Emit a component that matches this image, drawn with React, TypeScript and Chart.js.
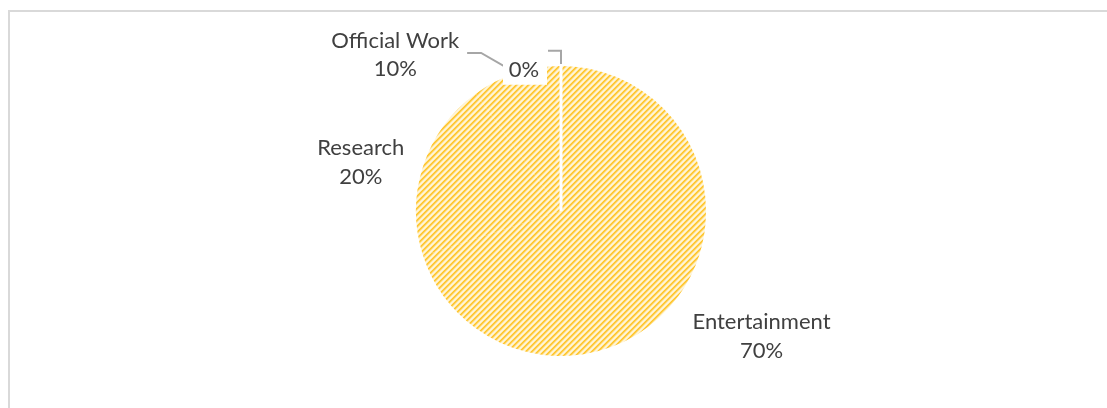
import React, { useEffect, useRef } from 'react';
import { Chart, registerables } from 'chart.js';

Chart.register(...registerables);

// ---- data ----
const categories: string[] = ['Entertainment', 'Research', 'Official Work', ''];
const values: number[] = [70, 20, 10, 0];
const showCategory: boolean[] = [true, true, true, false];
// manual label nudges (Excel "best fit" adjustments), px
const labelNudgeX: number[] = [18, -7, -104, -37];
const labelNudgeY: number[] = [-7, 14, 34, 26];

const FONT = '22px Lato, "Open Sans", sans-serif';
const TEXT_COLOR = '#404040';
const LINE_H = 28.5;

function makePattern(): CanvasPattern | string {
  const p = 6;
  const c = document.createElement('canvas');
  c.width = p;
  c.height = p;
  const g = c.getContext('2d');
  if (!g) return '#ffd966';
  const cols = ['#ffc42a', '#ffcd45', '#ffe08f', '#fff3d0', '#fff6da', '#ffe7a8'];
  for (let y = 0; y < p; y++) {
    for (let x = 0; x < p; x++) {
      g.fillStyle = cols[(x + y) % p];
      g.fillRect(x, y, 1, 1);
    }
  }
  const pat = g.createPattern(c, 'repeat');
  return pat || '#ffd966';
}

const labelPlugin = {
  id: 'excelLabels',
  afterDatasetsDraw(chart: any) {
    const ctx: CanvasRenderingContext2D = chart.ctx;
    const meta = chart.getDatasetMeta(0);
    const total = values.reduce((a, b) => a + b, 0);
    const arcs = meta.data.map((el: any) => el.getProps(['x', 'y', 'startAngle', 'endAngle', 'outerRadius'], true));
    ctx.save();
    ctx.font = FONT;

    type L = { lines: string[]; cx: number; cy: number; w: number; h: number; mid: number; arc: any; i: number };
    const labels: L[] = arcs.map((a: any, i: number) => {
      const pct = Math.round((values[i] / total) * 100) + '%';
      const lines = showCategory[i] ? [categories[i], pct] : [pct];
      const w = Math.max(...lines.map((t) => ctx.measureText(t).width));
      const h = lines.length * LINE_H;
      const mid = (a.startAngle + a.endAngle) / 2;
      const dx = Math.cos(mid);
      const dy = Math.sin(mid);
      const extra = 8 + Math.abs(dx) * (w / 2) + Math.abs(dy) * (h / 2);
      const d = a.outerRadius + extra;
      return {
        lines,
        cx: a.x + dx * d + labelNudgeX[i],
        cy: a.y + dy * d + labelNudgeY[i],
        w,
        h,
        mid,
        arc: a,
        i,
      };
    });

    // white separator line for zero-size slice
    arcs.forEach((a: any, i: number) => {
      if (values[i] === 0) {
        ctx.strokeStyle = '#ffffff';
        ctx.lineWidth = 3;
        ctx.beginPath();
        ctx.moveTo(a.x, a.y);
        ctx.lineTo(a.x + Math.cos(a.startAngle) * (a.outerRadius + 2), a.y + Math.sin(a.startAngle) * (a.outerRadius + 2));
        ctx.stroke();
      }
    });

    // leader lines
    ctx.strokeStyle = '#a6a6a6';
    ctx.lineWidth = 2;
    labels.forEach((l) => {
      const a = l.arc;
      const ex = a.x + Math.cos(l.mid) * a.outerRadius;
      const ey = a.y + Math.sin(l.mid) * a.outerRadius;
      if (values[l.i] === 0) {
        const bx = l.cx + 23;
        const by = l.cy - 21;
        ctx.beginPath();
        ctx.moveTo(bx + 1, by + 2);
        ctx.lineTo(ex, by + 2);
        ctx.lineTo(ex, ey - 2);
        ctx.stroke();
      } else if (l.i === 2) {
        const sx = l.cx + l.w / 2 + 8;
        const sy = l.cy - 2;
        ctx.beginPath();
        ctx.moveTo(sx, sy);
        ctx.lineTo(sx + 14, sy);
        ctx.lineTo(ex, ey);
        ctx.stroke();
      }
    });

    // labels
    labels.forEach((l) => {
      if (values[l.i] === 0) {
        ctx.fillStyle = '#ffffff';
        ctx.fillRect(l.cx - 21, l.cy - 21, 44, 36);
      }
      ctx.fillStyle = TEXT_COLOR;
      ctx.textAlign = 'center';
      ctx.textBaseline = 'middle';
      const top = l.cy - ((l.lines.length - 1) * LINE_H) / 2;
      l.lines.forEach((t, k) => ctx.fillText(t, l.cx, top + k * LINE_H));
    });
    ctx.restore();
  },
};

export default function App() {
  const ref = useRef<HTMLCanvasElement | null>(null);
  useEffect(() => {
    if (!ref.current) return;
    const pattern = makePattern();
    const chart = new Chart(ref.current, {
      type: 'pie',
      data: {
        labels: categories,
        datasets: [
          {
            data: values,
            backgroundColor: values.map(() => pattern) as any,
            borderWidth: 0,
            hoverOffset: 0,
            offset: 0,
          },
        ],
      },
      options: {
        responsive: false,
        animation: false,
        layout: { padding: { left: 301, right: 286, top: 66, bottom: 52 } },
        plugins: {
          legend: { display: false },
          tooltip: { enabled: false },
        },
        events: [],
      },
      plugins: [labelPlugin],
    });
    return () => chart.destroy();
  }, []);

  return (
    <div style={{ position: 'fixed', left: 0, top: 0, width: 1107, height: 408, background: '#ffffff', overflow: 'hidden' }}>
      <div
        style={{
          position: 'absolute',
          left: 8,
          top: 10,
          width: 1120,
          height: 420,
          borderTop: '2px solid #d9d9d9',
          borderLeft: '2px solid #d9d9d9',
          boxSizing: 'border-box',
        }}
      />
      <canvas ref={ref} width={1107} height={408} style={{ position: 'absolute', left: 0, top: 0, width: 1107, height: 408 }} />
    </div>
  );
}
